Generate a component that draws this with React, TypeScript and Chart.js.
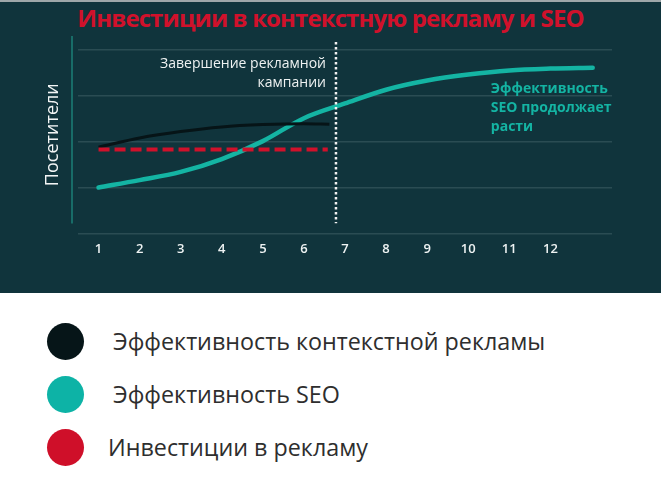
import { useEffect, useRef } from "react"
import { Chart, registerables } from "chart.js"

Chart.register(...registerables)

// Данные (ось Y — условные «посетители», 1 деление = 1)
const xTicks = [1, 2, 3, 4, 5, 6, 7, 8, 9, 10, 11, 12]
const yGrid = [0, 1, 2, 3, 4]

const seoX = [1, 2, 3, 4, 5, 6, 7, 8, 9, 10, 11, 12, 13.03]
const seoY = [1.0, 1.16, 1.34, 1.62, 2.01, 2.51, 2.83, 3.13, 3.33, 3.46, 3.55, 3.59, 3.61]

const adsX = [1, 2, 3, 4, 5, 6, 6.62]
const adsY = [1.88, 2.08, 2.22, 2.32, 2.37, 2.39, 2.38]

const investX = [1, 6.58]
const investY = [1.83, 1.83]

const campaignEndX = 6.78
const campaignEndY = [4.17, 0.22]

const chartTitle = "Инвестиции в контекстную рекламу и SEO"
const yTitle = "Посетители"
const campaignNote = ["Завершение рекламной", "кампании"]
const seoNote = ["Эффективность", "SEO продолжает", "расти"]

const legendLabels = ["Эффективность контекстной рекламы", "Эффективность SEO", "Инвестиции в рекламу"]
const legendColors = ["#061518", "#0db3a6", "#cf0f29"]

const FONT = "'Open Sans', sans-serif"
const PANEL = "#10343c"
const TEAL = "#14b4a3"
const RED = "#d0112b"

const toPoints = (xs: number[], ys: number[]) => xs.map((x, i) => ({ x, y: ys[i] }))

const decorPlugin = {
  id: "decor",
  beforeDatasetsDraw(chart: Chart) {
    const { ctx, chartArea } = chart
    // тонкая бирюзовая вертикальная ось слева
    ctx.save()
    ctx.strokeStyle = "#1b7f77"
    ctx.lineWidth = 1.5
    ctx.beginPath()
    ctx.moveTo(chartArea.left - 6, chartArea.top)
    ctx.lineTo(chartArea.left - 6, chartArea.bottom - 10)
    ctx.stroke()
    ctx.restore()
  },
  afterDraw(chart: Chart) {
    const { ctx } = chart
    const xs = chart.scales.x
    const ys = chart.scales.y
    ctx.save()
    ctx.textBaseline = "middle"

    ctx.font = `14px ${FONT}`
    ctx.fillStyle = "#eef2f2"
    ctx.textAlign = "right"
    const cx = xs.getPixelForValue(campaignEndX) - 10
    const cy = ys.getPixelForValue(3.7)
    campaignNote.forEach((t, i) => ctx.fillText(t, cx, cy + i * 19))

    ctx.font = `bold 14px ${FONT}`
    ctx.fillStyle = TEAL
    ctx.textAlign = "left"
    const sx = xs.getPixelForValue(10.55)
    const sy = ys.getPixelForValue(3.15)
    seoNote.forEach((t, i) => ctx.fillText(t, sx, sy + i * 19))
    ctx.restore()
  },
}

function LineChart() {
  const chartRef = useRef<HTMLCanvasElement>(null)
  const chartInstance = useRef<Chart | null>(null)

  useEffect(() => {
    if (!chartRef.current) return
    if (chartInstance.current) chartInstance.current.destroy()
    const ctx = chartRef.current.getContext("2d")
    if (!ctx) return

    chartInstance.current = new Chart(ctx, {
      type: "line",
      data: {
        datasets: [
          {
            label: "Конец кампании",
            data: campaignEndY.map((y) => ({ x: campaignEndX, y })),
            borderColor: "#f2f2f2",
            borderWidth: 2.5,
            borderDash: [2.5, 2.5],
            pointRadius: 0,
          },
          {
            label: legendLabels[2],
            data: toPoints(investX, investY),
            borderColor: RED,
            borderWidth: 4,
            borderDash: [11, 5],
            pointRadius: 0,
          },
          {
            label: legendLabels[0],
            data: toPoints(adsX, adsY),
            borderColor: "#061417",
            borderWidth: 3,
            cubicInterpolationMode: "monotone",
            pointRadius: 0,
          },
          {
            label: legendLabels[1],
            data: toPoints(seoX, seoY),
            borderColor: TEAL,
            borderWidth: 4.5,
            borderCapStyle: "round",
            cubicInterpolationMode: "monotone",
            pointRadius: 0,
          },
        ],
      },
      options: {
        animation: false,
        responsive: true,
        maintainAspectRatio: false,
        layout: { padding: { top: 34, left: 30, right: 49, bottom: 28 } },
        scales: {
          x: {
            type: "linear",
            min: 0.5,
            max: 13.5,
            afterBuildTicks: (axis: any) => {
              axis.ticks = xTicks.map((value) => ({ value }))
            },
            grid: { display: false, drawTicks: false },
            border: { display: false },
            ticks: {
              color: "#eef3f3",
              font: { family: FONT, size: 13, weight: 600 },
              padding: 8,
              autoSkip: false,
              maxRotation: 0,
            },
          },
          y: {
            type: "linear",
            min: 0,
            max: 4.3,
            afterBuildTicks: (axis: any) => {
              axis.ticks = yGrid.map((value) => ({ value }))
            },
            grid: { color: "#2a4c53", lineWidth: 1.5, drawTicks: false },
            border: { display: false },
            ticks: { display: false },
            title: {
              display: true,
              text: yTitle,
              color: "#f2f5f5",
              font: { family: FONT, size: 18 },
              padding: { top: 12, bottom: 14.4 },
            },
          },
        },
        plugins: {
          legend: { display: false },
          tooltip: { enabled: false },
        },
      },
      plugins: [decorPlugin],
    })

    return () => {
      if (chartInstance.current) {
        chartInstance.current.destroy()
        chartInstance.current = null
      }
    }
  }, [])

  return <canvas ref={chartRef} />
}

export default function App() {
  return (
    <div
      style={{
        position: "fixed",
        left: 0,
        top: 0,
        width: 661,
        height: 491,
        background: "#fff",
        fontFamily: FONT,
      }}
    >
      <div
        style={{
          position: "absolute",
          left: 0,
          top: 0,
          width: 661,
          height: 291,
          borderTop: "2px solid #9ea7a9",
          background: PANEL,
        }}
      >
        <div
          style={{
            position: "absolute",
            left: 0,
            top: 1,
            width: 661,
            textAlign: "center",
            color: RED,
            fontSize: 24,
            fontWeight: 700,
            letterSpacing: -0.9,
            lineHeight: "30px",
          }}
        >
          {chartTitle}
        </div>
        <div style={{ position: "absolute", left: 0, top: 0, width: 661, height: 291 }}>
          <LineChart />
        </div>
      </div>
      {legendLabels.map((label, i) => (
        <div key={label}>
          <div
            style={{
              position: "absolute",
              left: 47,
              top: 323 + i * 53,
              width: 37,
              height: 37,
              borderRadius: "50%",
              background: legendColors[i],
            }}
          />
          <div
            style={{
              position: "absolute",
              left: i === 2 ? 108 : 113,
              top: 325 + i * 53,
              fontSize: 23.3,
              lineHeight: "32px",
              color: "#2e2e2e",
              whiteSpace: "nowrap",
            }}
          >
            {label}
          </div>
        </div>
      ))}
    </div>
  )
}
